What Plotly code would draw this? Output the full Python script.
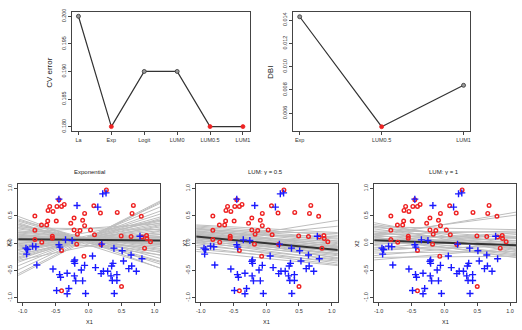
import numpy as np
import plotly.graph_objects as go

W, H = 522, 330

# ---------------- data ----------------
cv_methods = ["La", "Exp", "Logit", "LUM0", "LUM0.5", "LUM1"]
cv_error = [0.200, 0.180, 0.190, 0.190, 0.180, 0.180]
cv_ticks = [0.180, 0.185, 0.190, 0.195, 0.200]

dbi_methods = ["Exp", "LUM0.5", "LUM1"]
dbi_values = [0.01428, 0.00485, 0.0084]
dbi_ticks = [0.006, 0.008, 0.010, 0.012, 0.014]

red_x1 = [-0.815, -0.815, -0.815, -0.71, -0.715, -0.62, -0.635, -0.615, -0.59, -0.54,
          -0.49, -0.48, -0.55, -0.55, -0.41, -0.41, -0.37, -0.45, -0.41, -0.27,
          -0.22, -0.22, -0.17, -0.18, -0.13, -0.09, -0.06, -0.06, -0.07, 0.03,
          0.08, 0.09, 0.18, 0.19, 0.27, 0.435, 0.495, 0.50, 0.66, 0.68,
          0.645, 0.80, 0.81, 0.85, 0.88, 0.885, 0.94]
red_x2 = [0.497, 0.236, 0.067, 0.018, 0.333, 0.406, 0.333, 0.600, 0.673, 0.582,
          0.406, 0.673, 0.127, 0.091, -0.133, 0.673, 0.709, 0.794, -0.873, 0.364,
          0.461, 0.242, 0.164, -0.018, 0.230, 0.418, 0.545, 0.321, -0.242, 0.242,
          0.685, 0.152, 0.552, -0.024, 0.976, 0.564, 0.133, -0.794, 0.545, 0.691,
          0.121, 0.491, 0.115, -0.091, 0.139, 0.085, 0.024]

blue_x1 = [-0.45, -0.175, 0.14, 0.215, 0.265, -0.95, -0.925, -0.94, -0.85, -0.80,
           -0.785, -0.54, -0.45, -0.435, -0.44, -0.425, -0.485, -0.35, -0.325, -0.30,
           -0.325, -0.25, -0.22, -0.21, -0.21, -0.215, -0.195, -0.11, -0.09, -0.06,
           -0.045, 0.06, 0.105, 0.19, 0.225, 0.29, 0.20, 0.385, 0.35, 0.37,
           0.34, 0.36, 0.43, 0.43, 0.39, 0.51, 0.53, 0.645, 0.655, 0.61,
           0.725, 0.78, 0.81]
blue_x2 = [0.806, 0.691, 0.661, 0.903, 0.921, -0.091, -0.115, -0.200, -0.055, -0.067,
           -0.400, -0.473, -0.030, -0.073, -0.576, -0.624, -0.867, 0.061, -0.552, -0.830,
           -0.927, 0.048, -0.333, -0.370, -0.309, -0.600, -0.690, -0.491, -0.690, -0.406,
           -0.921, -0.236, -0.448, -0.558, -0.515, -0.515, -0.018, -0.091, -0.418, -0.370,
           -0.600, -0.685, -0.576, -0.685, -0.921, -0.139, -0.327, -0.218, -0.418, -0.467,
           -0.515, 0.127, -0.285]

xy_ticks = [-1.0, -0.5, 0.0, 0.5, 1.0]

# boundary lines: value of X2 at X1 = -1 and at X1 = 1
exp_left = [0.46, 0.42, 0.38, 0.35, 0.32, 0.30, 0.27, 0.25, 0.22, 0.20,
            0.18, 0.16, 0.15, 0.13, 0.12, 0.10, 0.08, 0.07, 0.05, 0.04,
            0.02, 0.00, -0.02, -0.04, -0.06, -0.08, -0.10, -0.12, -0.15, -0.18,
            -0.20, -0.23, -0.27, -0.32, -0.38, -0.45, -0.52, -0.55, 0.10, -0.05,
            0.28, -0.30, 0.40, 0.20, 0.00, 0.33, -0.25, 0.14, -0.10, 0.06]
exp_right = [-0.42, -0.35, -0.30, -0.42, -0.20, -0.15, -0.12, -0.08, -0.05, -0.02,
             0.00, -0.10, 0.03, 0.05, -0.02, 0.08, 0.10, 0.02, 0.12, 0.06,
             0.15, 0.18, 0.10, 0.22, 0.25, 0.15, 0.28, 0.32, 0.35, 0.30,
             0.40, 0.45, 0.50, 0.55, 0.62, 0.68, 0.72, 0.70, -0.20, -0.05,
             0.25, 0.20, -0.25, 0.35, 0.40, -0.32, 0.42, -0.15, 0.38, 0.00]
exp_main = [0.07, 0.05]

lum05_left = [0.33, 0.31, 0.29, 0.27, 0.25, 0.24, 0.22, 0.21, 0.20, 0.19,
              0.18, 0.17, 0.16, 0.15, 0.14, 0.13, 0.12, 0.11, 0.10, 0.09,
              0.08, 0.07, 0.05, 0.04, 0.02, 0.00, -0.02, -0.05, -0.08, -0.12,
              -0.16, 0.02, 0.06, 0.26, 0.15]
lum05_right = [0.20, 0.15, 0.10, 0.05, 0.02, 0.18, -0.02, 0.08, -0.05, 0.12,
               -0.08, 0.00, -0.10, -0.04, -0.12, 0.04, -0.15, -0.07, -0.18, -0.10,
               -0.20, -0.14, -0.25, -0.18, -0.30, -0.22, -0.35, -0.28, -0.38, -0.32,
               -0.40, 0.40, 0.30, -0.06, -0.26]
lum05_main = [0.114, -0.114]

lum1_left = [0.36, 0.33, 0.30, 0.28, 0.25, 0.22, 0.20, 0.18, 0.16, 0.14,
             0.12, 0.10, 0.08, 0.06, 0.04, 0.02, 0.00, -0.02, -0.05, -0.08,
             -0.11, -0.14, -0.18, -0.22, -0.26, -0.30, 0.14, 0.18, 0.30, 0.10]
lum1_right = [-0.10, 0.00, -0.15, 0.10, -0.05, 0.20, -0.12, 0.05, 0.22, -0.08,
              0.12, -0.18, 0.02, 0.18, -0.20, 0.08, -0.02, 0.15, -0.22, 0.10,
              -0.06, 0.04, -0.15, 0.00, -0.24, -0.10, 0.55, 0.50, 0.25, -0.25]
lum1_main = [0.05, -0.033]

# ---------------- layout helpers ----------------
def dom_x(a, b):
    return [a / W, b / W]

def dom_y(top, bottom):
    return [1 - bottom / H, 1 - top / H]

FONT = "Liberation Sans, Arial, sans-serif"
AXCOL = "#444444"
RED = "#ee2222"
BLUE = "#1a1aff"

fig = go.Figure()

# top-left: CV error
xs_cv = list(range(1, len(cv_methods) + 1))
cv_min = min(cv_error)
fig.add_trace(go.Scatter(
    x=xs_cv, y=cv_error, mode="lines",
    line=dict(color="#333333", width=1.2), xaxis="x", yaxis="y", showlegend=False))
fig.add_trace(go.Scatter(
    x=xs_cv, y=cv_error, mode="markers",
    marker=dict(size=4, color=[RED if v == cv_min else "#999999" for v in cv_error],
                line=dict(color=[RED if v == cv_min else "#333333" for v in cv_error], width=0.8)),
    xaxis="x", yaxis="y", showlegend=False, cliponaxis=False))

# top-right: DBI
xs_d = list(range(1, len(dbi_methods) + 1))
dmin = min(dbi_values)
fig.add_trace(go.Scatter(
    x=xs_d, y=dbi_values, mode="lines",
    line=dict(color="#333333", width=1.2), xaxis="x2", yaxis="y2", showlegend=False))
fig.add_trace(go.Scatter(
    x=xs_d, y=dbi_values, mode="markers",
    marker=dict(size=4, color=[RED if v == dmin else "#999999" for v in dbi_values],
                line=dict(color=[RED if v == dmin else "#333333" for v in dbi_values], width=0.8)),
    xaxis="x2", yaxis="y2", showlegend=False, cliponaxis=False))

# bottom panels
panels = [
    ("x3", "y3", exp_left, exp_right, exp_main),
    ("x4", "y4", lum05_left, lum05_right, lum05_main),
    ("x5", "y5", lum1_left, lum1_right, lum1_main),
]
XE = np.array([-1.5, 1.5])
for xa, ya, L, R, M in panels:
    L = np.array(L); R = np.array(R)
    slope = (R - L) / 2.0
    icpt = (R + L) / 2.0
    xs, ys = [], []
    for b, a in zip(slope, icpt):
        xs += list(XE) + [None]
        ys += list(a + b * XE) + [None]
    fig.add_trace(go.Scatter(x=xs, y=ys, mode="lines",
                             line=dict(color="#bebebe", width=1),
                             xaxis=xa, yaxis=ya, showlegend=False))
    mb = (M[1] - M[0]) / 2.0
    ma = (M[1] + M[0]) / 2.0
    fig.add_trace(go.Scatter(x=list(XE), y=list(ma + mb * XE), mode="lines",
                             line=dict(color="#333333", width=2),
                             xaxis=xa, yaxis=ya, showlegend=False))
    fig.add_trace(go.Scatter(x=red_x1, y=red_x2, mode="markers",
                             marker=dict(symbol="circle-open", size=3.6, color=RED,
                                         line=dict(width=1.4, color=RED)),
                             xaxis=xa, yaxis=ya, showlegend=False))
    fig.add_trace(go.Scatter(x=blue_x1, y=blue_x2, mode="markers",
                             marker=dict(symbol="cross-thin-open", size=5, color=BLUE,
                                         line=dict(width=1.4, color=BLUE)),
                             xaxis=xa, yaxis=ya, showlegend=False))

common_ax = dict(showline=True, mirror=True, linecolor=AXCOL, linewidth=1,
                 ticks="outside", ticklen=3, tickwidth=1, tickcolor=AXCOL,
                 showgrid=False, zeroline=False,
                 tickfont=dict(size=5.5, color="#333333", family=FONT))

layout = dict(
    width=W, height=H, margin=dict(l=0, r=0, t=0, b=0),
    paper_bgcolor="white", plot_bgcolor="white",
    font=dict(family=FONT, color="#222222"),
    xaxis=dict(domain=dom_x(72, 250), range=[0.8, 6.2],
               tickvals=xs_cv, ticktext=cv_methods,
               anchor="y", **common_ax),
    yaxis=dict(domain=dom_y(9, 130), range=[0.1792, 0.2008],
               tickvals=cv_ticks, ticktext=["%.3f" % t for t in cv_ticks],
               tickangle=-90, anchor="x", **common_ax),
    xaxis2=dict(domain=dom_x(293.7, 471), range=[0.92, 3.08],
                tickvals=xs_d, ticktext=dbi_methods,
                anchor="y2", **common_ax),
    yaxis2=dict(domain=dom_y(9, 130), range=[0.00448, 0.0147],
                tickvals=dbi_ticks, ticktext=["%.3f" % t for t in dbi_ticks],
                tickangle=-90, anchor="x2", **common_ax),
)
bot = [(18.3, 160.7), (196.7, 338.3), (375, 517)]
for i, (a, b) in enumerate(bot):
    n = i + 3
    layout["xaxis%d" % n] = dict(domain=dom_x(a, b), range=[-1.067, 1.09],
                                 tickvals=xy_ticks, ticktext=["%.1f" % t for t in xy_ticks],
                                 anchor="y%d" % n, **common_ax)
    layout["yaxis%d" % n] = dict(domain=dom_y(184, 304), range=[-1.085, 1.08],
                                 tickvals=xy_ticks, ticktext=["%.1f" % t for t in xy_ticks],
                                 tickangle=-90, anchor="x%d" % n, **common_ax)
fig.update_layout(**layout)

def ann(text, px, py, size, angle=0):
    fig.add_annotation(text=text, x=px / W, y=1 - py / H, xref="paper", yref="paper",
                       showarrow=False, textangle=angle,
                       font=dict(size=size, family=FONT, color="#222222"),
                       xanchor="center", yanchor="middle")

ann("CV error", 50, 70, 8, -90)
ann("DBI", 271.5, 70, 8, -90)
ann("Exponential", 89.5, 172, 6)
ann("LUM: \u03b3 = 0.5", 266, 172, 6)
ann("LUM: \u03b3 = 1", 445, 172, 6)
for cx, yx in [(89.5, 9.5), (267.5, 185.5), (446, 357.5)]:
    ann("X1", cx, 324, 5.5)
    ann("X2", yx, 244, 5.5, -90)

fig.write_html("out.html")
